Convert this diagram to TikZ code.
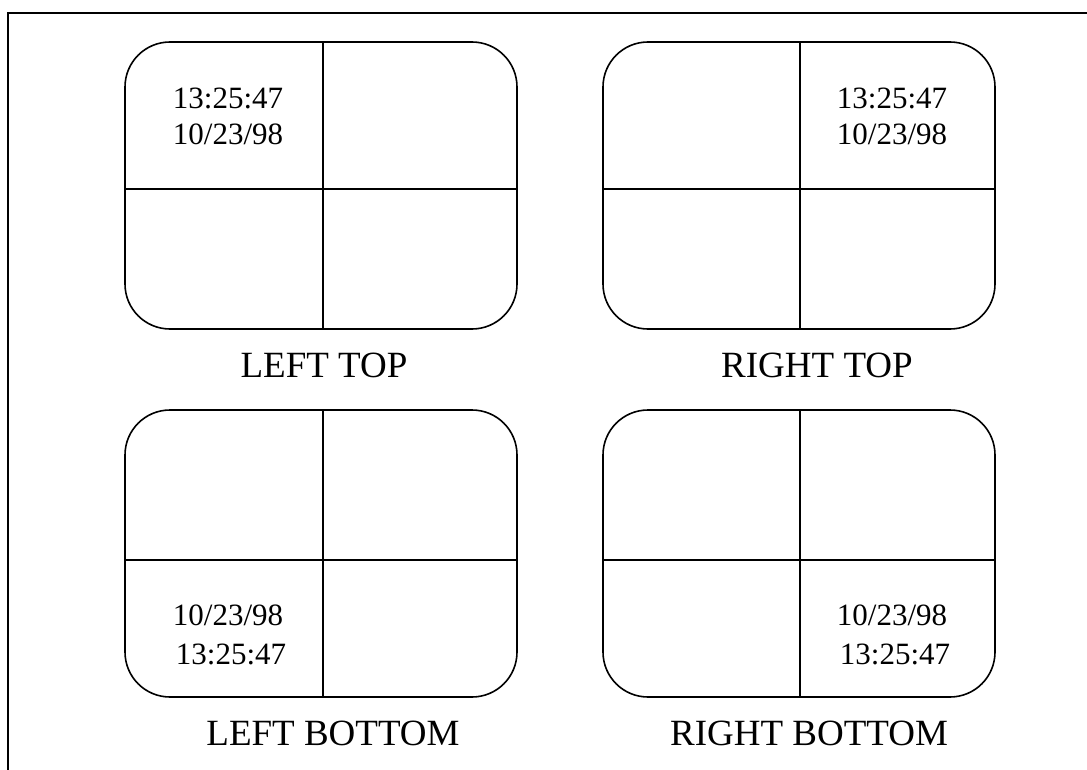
\documentclass[tikz,border=0pt]{standalone}
\usepackage{fontspec}
\setmainfont{Liberation Serif}
\begin{document}
\begin{tikzpicture}[x=1pt,y=-1pt,
  screen/.style={draw=black,line width=1.6pt,rounded corners=45pt},
  divider/.style={draw=black,line width=1.4pt},
  frameline/.style={draw=black,line width=1.6pt},
  stamp/.style={anchor=base,inner sep=0pt,font=\fontsize{31}{36}\selectfont},
  caption/.style={anchor=base,inner sep=0pt,font=\fontsize{37}{42}\selectfont}]
\useasboundingbox (0,0) rectangle (1087,770);
% outer frame (cropped at right and bottom)
\coordinate (fbl) at (8,775);
\coordinate (ftl) at (8,13);
\coordinate (ftr) at (1092,13);
\draw[frameline] (fbl) -- (ftl) -- (ftr);
% screens
\foreach \nm/\xl/\yt/\xd/\yd in {lt/125/42/323/189, rt/603/42/800/189, lb/125/410/323/560, rb/603/410/800/560}{
  \pgfmathsetmacro{\xr}{\xl+392}
  \pgfmathsetmacro{\yb}{\yt+287}
  \coordinate (\nm-nw) at (\xl,\yt);
  \coordinate (\nm-se) at (\xr,\yb);
  \coordinate (\nm-n) at (\xd,\yt);
  \coordinate (\nm-s) at (\xd,\yb);
  \coordinate (\nm-w) at (\xl,\yd);
  \coordinate (\nm-e) at (\xr,\yd);
  \draw[divider] (\nm-n) -- (\nm-s);
  \draw[divider] (\nm-w) -- (\nm-e);
  \draw[screen] (\nm-nw) rectangle (\nm-se);
}
% time/date stamps
\node[stamp] (lt1) at (228,109) {13:25:47};
\node[stamp] (lt2) at (228,145) {10/23/98};
\node[stamp] (rt1) at (892,109) {13:25:47};
\node[stamp] (rt2) at (892,145) {10/23/98};
\node[stamp] (lb1) at (228,625) {10/23/98};
\node[stamp] (lb2) at (231,664) {13:25:47};
\node[stamp] (rb1) at (892,625) {10/23/98};
\node[stamp] (rb2) at (895,664) {13:25:47};
% captions
\node[caption] (clt) at (324,377) {LEFT TOP};
\node[caption] (crt) at (817,377) {RIGHT TOP};
\node[caption] (clb) at (333,745) {LEFT BOTTOM};
\node[caption] (crb) at (809,745) {RIGHT BOTTOM};
\end{tikzpicture}
\end{document}
